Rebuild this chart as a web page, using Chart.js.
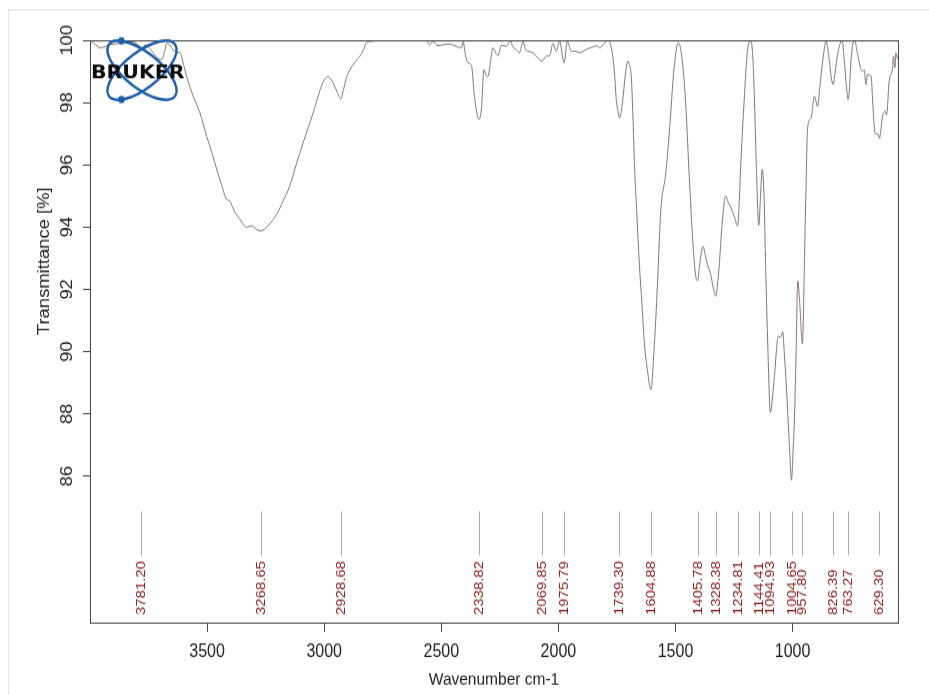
<!DOCTYPE html>
<html>
<head>
<meta charset="utf-8">
<title>FTIR spectrum</title>
<script src="https://cdn.jsdelivr.net/npm/chart.js@4.4.1/dist/chart.umd.min.js"></script>
<style>
  html, body { margin: 0; padding: 0; background: #fff; }
  #page { position: relative; width: 929px; height: 695px; overflow: hidden; background: #fff; }
  /* the source picture is a vertically stretched R plot */
  #wrap { position: absolute; left: 0; top: 0; width: 929px; height: 604px;
          transform: scaleY(1.1507); transform-origin: 0 0; }
</style>
</head>
<body>
<div id="page"><div id="wrap"><canvas id="ir" width="929" height="604"></canvas></div></div>
<script>
// ---------- Data ----------
const wavenumbers = [
  3998, 3975, 3957, 3935, 3915, 3870, 3820, 3795, 3781, 3765,
  3745, 3731, 3710, 3694, 3680, 3673, 3660, 3646, 3630, 3616,
  3600, 3588, 3559, 3531, 3502, 3480, 3459, 3438, 3417, 3403,
  3392, 3381, 3355, 3331, 3310, 3290, 3268.65, 3240, 3203, 3175,
  3147, 3120, 3090, 3068, 3047, 3030, 3012, 2995, 2983, 2972,
  2962, 2945, 2928.68, 2918, 2905, 2890, 2877, 2860, 2848, 2832,
  2820, 2798, 2750, 2700, 2650, 2600, 2564, 2550, 2537, 2514,
  2490, 2464, 2440, 2414, 2407, 2396, 2386, 2372, 2357, 2338.82,
  2329, 2318, 2310, 2301, 2290, 2280, 2268, 2258, 2244, 2223,
  2205, 2195, 2180, 2166, 2151, 2140, 2130, 2109, 2090, 2069.85,
  2052, 2038, 2023, 2009, 1995, 1975.79, 1962, 1945, 1928, 1910,
  1895, 1881, 1853, 1835, 1824, 1805, 1785, 1775, 1768, 1760,
  1753, 1745, 1739.30, 1732, 1725, 1714, 1703, 1696, 1689, 1682,
  1675, 1665, 1654, 1643, 1632, 1620, 1604.88, 1592, 1577, 1563,
  1542, 1527, 1506, 1488, 1480, 1471, 1457, 1443, 1428, 1415,
  1405.78, 1398, 1390, 1382, 1373, 1364, 1350, 1340, 1328.38, 1320,
  1314, 1300, 1286, 1275, 1264, 1250, 1234.81, 1228, 1222, 1207,
  1193, 1179, 1172, 1165, 1155, 1144.41, 1137, 1130, 1122, 1115,
  1106, 1094.93, 1085, 1078, 1061, 1052, 1042, 1035, 1028, 1015,
  1004.65, 998, 992, 985, 978, 970, 957.80, 950, 943, 936,
  921, 907, 893, 885, 878, 867, 857, 843, 835, 826.39,
  818, 808, 789, 779, 770, 763.27, 756, 751, 736, 722,
  710, 701, 694, 687, 680, 665, 658, 651, 644, 637,
  629.30, 622, 616, 604, 599, 587, 573, 570, 563, 559,
  553
];
const transmittance = [
  100.0, 99.85, 99.76, 99.8, 99.86, 99.9, 99.95, 99.85, 99.7, 99.85,
  99.75, 99.6, 99.42, 99.38, 99.7, 99.9, 99.85, 99.7, 99.62, 99.6,
  99.2, 98.85, 98.2, 97.68, 96.92, 96.4, 95.86, 95.35, 94.9, 94.84,
  94.65, 94.48, 94.2, 93.99, 94.04, 93.93, 93.88, 94.05, 94.41, 94.85,
  95.32, 96.0, 96.71, 97.2, 97.67, 98.1, 98.53, 98.78, 98.83, 98.75,
  98.63, 98.35, 98.12, 98.4, 98.8, 99.05, 99.22, 99.38, 99.49, 99.7,
  99.92, 99.97, 100.0, 99.98, 100.0, 99.98, 100.0, 99.86, 99.97, 99.83,
  99.86, 99.88, 99.82, 99.76, 99.95, 99.5, 99.28, 99.22, 98.1, 97.46,
  97.78, 99.06, 98.9, 98.83, 99.3, 99.76, 99.6, 99.51, 99.84, 99.81,
  99.98, 99.8, 99.7, 99.6, 99.97, 99.7, 99.65, 99.6, 99.45, 99.33,
  99.49, 99.5, 99.9, 99.65, 99.97, 99.28, 99.97, 99.65, 99.65, 99.6,
  99.65, 99.7, 99.79, 99.82, 99.76, 99.9, 100.0, 99.8, 99.49, 98.9,
  98.1, 97.7, 97.51, 97.7, 98.1, 98.9, 99.33, 99.2, 98.85, 97.6,
  95.96, 94.4, 92.76, 91.5, 90.19, 89.4, 88.78, 90.0, 92.17, 94.52,
  95.7, 96.98, 99.12, 99.92, 99.8, 99.33, 98.04, 95.9, 93.77, 92.5,
  92.28, 92.7, 93.2, 93.38, 93.1, 92.81, 92.49, 92.1, 91.78, 92.2,
  92.7, 94.2, 95.0, 94.8, 94.63, 94.36, 94.04, 94.8, 95.9, 98.04,
  99.65, 99.97, 99.7, 98.6, 96.0, 94.05, 95.0, 95.86, 95.0, 92.7,
  90.19, 88.05, 88.6, 89.18, 90.5, 90.46, 90.64, 89.9, 89.07, 87.2,
  85.87, 86.8, 87.9, 90.0, 92.28, 91.6, 90.25, 92.7, 95.2, 97.19,
  97.51, 98.2, 97.88, 98.4, 98.9, 99.6, 99.97, 99.33, 98.8, 98.58,
  99.0, 99.54, 100.0, 99.33, 98.5, 98.1, 98.6, 99.33, 100.0, 99.54,
  99.1, 99.0, 99.05, 98.58, 98.9, 98.85, 98.04, 97.19, 96.98, 97.0,
  96.85, 97.2, 97.56, 97.72, 97.6, 98.74, 99.12, 99.49, 99.12, 99.6,
  99.4
];
const xTicks = [3500, 3000, 2500, 2000, 1500, 1000];
const yTicks = [86, 88, 90, 92, 94, 96, 98, 100];
const peakLabels = [
  "3781.20", "3268.65", "2928.68", "2338.82", "2069.85", "1975.79",
  "1739.30", "1604.88", "1405.78", "1328.38", "1234.81", "1144.41",
  "1094.93", "1004.65", "957.80", "826.39", "763.27", "629.30"
];

const FONT = '"Liberation Sans", Arial, Helvetica, sans-serif';
Chart.defaults.font.family = FONT;

const spectrum = wavenumbers.map((w, i) => ({ x: w, y: transmittance[i] }));

// ---------- Helper: point on a rotated ellipse ----------
function ellipsePoint(cx, cy, a, b, rot, t) {
  const ux = Math.cos(rot), uy = Math.sin(rot);
  return [cx + a * Math.cos(t) * ux - b * Math.sin(t) * uy,
          cy + a * Math.cos(t) * uy + b * Math.sin(t) * ux];
}

// ---------- Plugin: box, rotated y labels, peak picks, logo ----------
const irDecor = {
  id: "irDecor",
  beforeDraw(chart) {
    const { ctx, width, height } = chart;
    ctx.save();
    ctx.fillStyle = "#fff";
    ctx.fillRect(0, 0, width, height);
    ctx.strokeStyle = "#e2e2e2";
    ctx.lineWidth = 1;
    ctx.strokeRect(8.5, 8.5, width + 10, height + 10);
    ctx.restore();
  },
  afterDraw(chart) {
    const { ctx, chartArea: a, scales: { x, y } } = chart;
    ctx.save();

    // plot frame
    ctx.strokeStyle = "#444";
    ctx.lineWidth = 1;
    ctx.strokeRect(a.left + 0.5, a.top + 0.5, a.right - a.left, a.bottom - a.top);

    // y tick labels, rotated like base R
    ctx.fillStyle = "#222";
    ctx.font = "16px " + FONT;
    ctx.textAlign = "center";
    ctx.textBaseline = "alphabetic";
    yTicks.forEach((v) => {
      ctx.save();
      ctx.translate(71.5, y.getPixelForValue(v));
      ctx.rotate(-Math.PI / 2);
      ctx.fillText(String(v), 0, 0);
      ctx.restore();
    });

    // y title
    ctx.save();
    ctx.translate(49, 227);
    ctx.rotate(-Math.PI / 2);
    ctx.fillText("Transmittance [%]", 0, 0);
    ctx.restore();

    // peak picks
    const yTop = y.getPixelForValue(84.87);
    const yBot = y.getPixelForValue(83.46);
    ctx.strokeStyle = "#aaa";
    ctx.fillStyle = "#8b1c1c";
    ctx.font = "13px " + FONT;
    ctx.textAlign = "left";
    ctx.textBaseline = "middle";
    peakLabels.forEach((lbl) => {
      const px = Math.round(x.getPixelForValue(parseFloat(lbl))) + 0.5;
      ctx.beginPath();
      ctx.moveTo(px, yTop);
      ctx.lineTo(px, yBot);
      ctx.stroke();
      ctx.save();
      ctx.translate(px, a.bottom - 6.5);
      ctx.rotate(-Math.PI / 2);
      ctx.fillText(lbl, 0, 0);
      ctx.restore();
    });

    // logo
    const cx = 142, cy = 61, ra = 40, rb = 16, rot = 0.58;
    ctx.strokeStyle = "#1f5fa8";
    ctx.lineWidth = 2.4;
    [rot, -rot].forEach((r) => {
      ctx.beginPath();
      ctx.ellipse(cx, cy, ra, rb, r, 0, 2 * Math.PI);
      ctx.stroke();
    });
    ctx.fillStyle = "#1f5fa8";
    [[rot, -2.465], [-rot, 2.465]].forEach(([r, t]) => {
      const [dx, dy] = ellipsePoint(cx, cy, ra, rb, r, t);
      ctx.beginPath();
      ctx.arc(dx, dy, 3.2, 0, 2 * Math.PI);
      ctx.fill();
    });
    ctx.save();
    ctx.translate(91, 68);
    ctx.scale(1.3, 1);
    ctx.fillStyle = "#0d0d0d";
    ctx.font = 'bold 16px "DejaVu Sans", ' + FONT;
    ctx.textAlign = "left";
    ctx.textBaseline = "alphabetic";
    ctx.fillText("BRUKER", 0, 0, 72);
    ctx.restore();

    ctx.restore();
  },
};

// ---------- Spectrum Line Chart ----------
new Chart(document.getElementById("ir"), {
  type: "line",
  data: {
    datasets: [
      {
        label: "Transmittance",
        data: spectrum,
        borderColor: "#877676",
        borderWidth: 1,
        pointRadius: 0,
        fill: false,
        cubicInterpolationMode: "monotone",
      },
    ],
  },
  options: {
    responsive: false,
    animation: false,
    layout: { padding: { top: 35, right: 31, bottom: 0, left: 0 } },
    plugins: {
      legend: { display: false },
      tooltip: { enabled: false },
    },
    scales: {
      x: {
        type: "linear",
        reverse: true,
        min: 550,
        max: 4000,
        afterBuildTicks: (s) => { s.ticks = xTicks.map((v) => ({ value: v })); },
        afterFit: (s) => { s.height = 63; },
        ticks: {
          autoSkip: false,
          maxRotation: 0,
          padding: 8,
          color: "#222",
          font: { size: 16 },
          callback: (v) => String(v),
        },
        grid: { drawOnChartArea: false, drawTicks: true, tickLength: 8, color: "#444" },
        border: { display: false },
        title: {
          display: true,
          text: "Wavenumber cm-1",
          color: "#222",
          font: { size: 15.5 },
          padding: { top: 0, bottom: 4 },
        },
      },
      y: {
        min: 81.3,
        max: 100,
        afterBuildTicks: (s) => { s.ticks = yTicks.map((v) => ({ value: v })); },
        afterFit: (s) => { s.width = 90; },
        ticks: { display: false },
        grid: { drawOnChartArea: false, drawTicks: true, tickLength: 7, color: "#444" },
        border: { display: false },
      },
    },
  },
  plugins: [irDecor],
});
</script>
</body>
</html>
